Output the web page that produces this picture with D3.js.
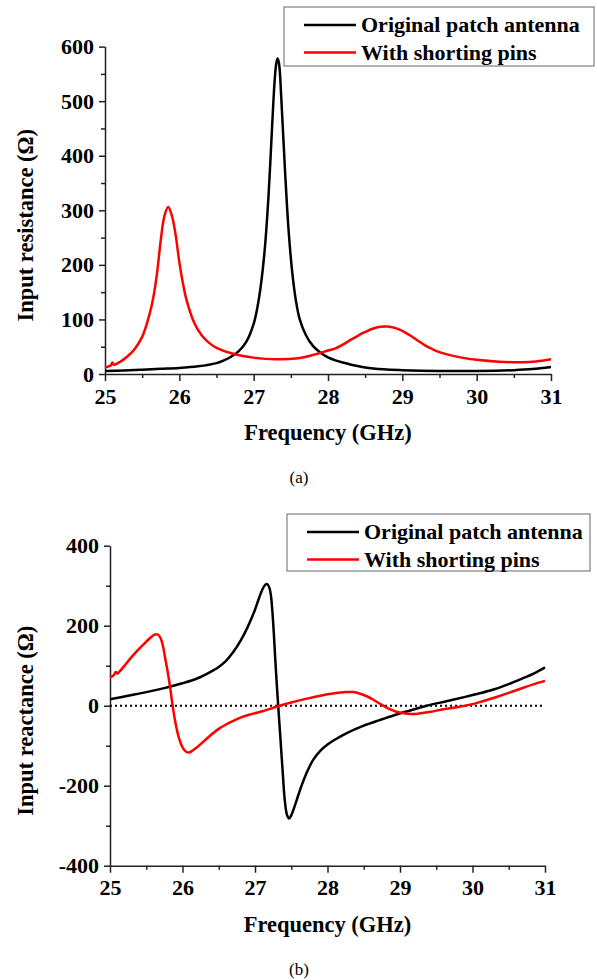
<!DOCTYPE html>
<html>
<head>
<meta charset="utf-8">
<script src="https://cdn.jsdelivr.net/npm/d3@7"></script>
<style>
  body { margin: 0; background: #fff; }
  svg { display: block; }
  text { font-family: "Liberation Serif", "Times New Roman", serif; }
  .axis path, .axis line { stroke: #222; stroke-width: 1.5; }
  .axis text { font-size: 22px; font-weight: bold; fill: #000; font-family: "Liberation Serif", "Times New Roman", serif; }
  .title { font-size: 22.5px; font-weight: bold; }
  .legend text { font-size: 22px; font-weight: bold; }
</style>
</head>
<body>
<svg id="fig" width="597" height="980"></svg>
<script>
// frequency (GHz), input resistance (ohm)
var resOrigF = [25.0, 25.25, 25.5, 25.75, 26.0, 26.25, 26.5, 26.6, 26.7, 26.8, 26.9, 27.0, 27.05, 27.1, 27.15, 27.2, 27.25, 27.28, 27.3, 27.32, 27.34, 27.37, 27.42, 27.47, 27.52, 27.57, 27.62, 27.7, 27.8, 27.9, 28.0, 28.1, 28.2, 28.3, 28.5, 28.75, 29.0, 29.5, 30.0, 30.5, 30.75, 31.0];
var resOrigR = [5.5, 6.5, 8, 9.5, 11, 14, 20, 25, 32, 42, 59, 92, 122, 166, 230, 327, 459, 533, 565, 578, 570, 510, 377, 263, 185, 133, 100, 72, 51, 39, 30.5, 25, 21, 17.5, 12, 8.5, 7, 5.5, 5.5, 7, 9, 13];

var resPinsF = [25.0, 25.05, 25.08, 25.1, 25.12, 25.2, 25.3, 25.4, 25.5, 25.6, 25.65, 25.7, 25.75, 25.8, 25.85, 25.9, 25.95, 26.0, 26.05, 26.1, 26.2, 26.3, 26.4, 26.5, 26.7, 27.0, 27.3, 27.6, 27.8, 28.0, 28.1, 28.2, 28.3, 28.4, 28.5, 28.6, 28.7, 28.8, 28.9, 29.0, 29.1, 29.2, 29.3, 29.4, 29.5, 29.6, 29.8, 30.0, 30.3, 30.6, 30.8, 31.0];
var resPinsR = [12, 14, 16, 21, 17, 22, 32, 46, 68, 110, 140, 185, 245, 290, 306, 290, 255, 205, 165, 134, 94, 71, 57, 48, 38, 30, 27, 29, 35, 43, 47, 54, 62, 70, 77, 83, 86.5, 87, 84.5, 79, 71, 62, 53, 46, 40, 36, 30, 26, 22.5, 21.5, 23, 27];

// frequency (GHz), input reactance (ohm)
var reaOrigF = [25.0, 25.25, 25.5, 25.75, 26.0, 26.2, 26.4, 26.5, 26.6, 26.7, 26.8, 26.9, 27.0, 27.05, 27.1, 27.14, 27.17, 27.2, 27.22, 27.24, 27.26, 27.28, 27.3, 27.32, 27.35, 27.38, 27.41, 27.44, 27.47, 27.5, 27.55, 27.6, 27.65, 27.7, 27.8, 27.9, 28.0, 28.1, 28.26, 28.5, 28.72, 28.9, 29.1, 29.37, 29.64, 29.9, 30.1, 30.3, 30.5, 30.7, 30.85, 31.0];
var reaOrigX = [16, 25, 34, 44, 56, 68, 86, 97, 112, 134, 162, 197, 240, 266, 290, 302, 304, 294, 275, 235, 180, 114, 55, 0, -80, -160, -235, -272, -282, -274, -250, -222, -196, -173, -136, -113, -97, -85, -69, -50, -36, -25, -14, 0, 11, 22, 31, 41, 54, 69, 81, 96];

var reaPinsF = [25.0, 25.05, 25.08, 25.1, 25.13, 25.2, 25.3, 25.4, 25.5, 25.57, 25.62, 25.66, 25.7, 25.73, 25.76, 25.8, 25.83, 25.86, 25.9, 25.95, 26.0, 26.05, 26.09, 26.14, 26.2, 26.3, 26.4, 26.5, 26.6, 26.7, 26.8, 26.93, 27.1, 27.34, 27.5, 27.7, 27.9, 28.1, 28.25, 28.35, 28.45, 28.55, 28.65, 28.75, 28.85, 28.95, 29.05, 29.15, 29.25, 29.4, 29.6, 29.8, 29.95, 30.1, 30.3, 30.5, 30.7, 30.85, 31.0];
var reaPinsX = [71, 76, 84, 80, 85, 100, 122, 142, 160, 172, 178, 178, 168, 150, 120, 80, 45, 5, -40, -80, -104, -115, -117, -112, -104, -88, -72, -58, -47, -38, -30, -22, -14, 0, 8, 17, 25, 31, 34, 34, 30, 23, 13, 2, -8, -15, -19, -21, -20, -16, -9, -3, 2, 9, 20, 32, 45, 54, 62];

var freqTicks = [25, 26, 27, 28, 29, 30, 31];
var resTicks = [0, 100, 200, 300, 400, 500, 600];
var reaTicks = [-400, -200, 0, 200, 400];
var seriesNames = ['Original patch antenna', 'With shorting pins'];
var seriesColors = ['#000', '#ff0000'];

var svg = d3.select('#fig');

function zip(f, v) {
    return f.map(function (d, i) { return [d, v[i]]; });
}

// plain hyphen for negatives, like the original
function fmt(d) { return String(d); }

function drawPanel(o) {
    var x = d3.scaleLinear().domain([25, 31]).range([o.left, o.right]);
    var y = d3.scaleLinear().domain(o.yDomain).range([o.bottom, o.top]);
    var g = svg.append('g');

    // minor ticks first, then major
    g.append('g').attr('class', 'axis').attr('transform', 'translate(0,' + o.bottom + ')')
        .call(d3.axisBottom(x).tickValues(d3.range(25.5, 31, 1)).tickSize(4).tickFormat(''))
        .select('.domain').remove();
    g.append('g').attr('class', 'axis').attr('transform', 'translate(' + o.left + ',0)')
        .call(d3.axisLeft(y).tickValues(o.yMinor).tickSize(4).tickFormat(''))
        .select('.domain').remove();

    g.append('g').attr('class', 'axis').attr('transform', 'translate(0,' + o.bottom + ')')
        .call(d3.axisBottom(x).tickValues(freqTicks).tickSize(7).tickSizeOuter(0).tickPadding(7).tickFormat(fmt));
    g.append('g').attr('class', 'axis').attr('transform', 'translate(' + o.left + ',0)')
        .call(d3.axisLeft(y).tickValues(o.yTicks).tickSize(6).tickSizeOuter(0).tickPadding(5).tickFormat(fmt));

    if (o.zeroLine) {
        g.append('line')
            .attr('x1', x(25)).attr('x2', x(31))
            .attr('y1', y(0)).attr('y2', y(0))
            .attr('stroke', '#000').attr('stroke-width', 2)
            .attr('stroke-dasharray', '2,3');
    }

    var line = d3.line()
        .x(function (d) { return x(d[0]); })
        .y(function (d) { return y(d[1]); })
        .curve(d3.curveCatmullRom.alpha(0.5));

    o.series.forEach(function (s, i) {
        g.append('path')
            .datum(s)
            .attr('fill', 'none')
            .attr('stroke', seriesColors[i])
            .attr('stroke-width', 2.5)
            .attr('stroke-linejoin', 'round')
            .attr('d', line);
    });

    g.append('text').attr('class', 'title')
        .attr('x', (o.left + o.right) / 2).attr('y', o.bottom + 66)
        .attr('text-anchor', 'middle')
        .text('Frequency (GHz)');

    g.append('text').attr('class', 'title')
        .attr('transform', 'translate(33,' + ((o.top + o.bottom) / 2 + 15) + ') rotate(-90)')
        .attr('text-anchor', 'middle')
        .text(o.yTitle);

    g.append('text')
        .attr('x', 299).attr('y', o.bottom + 109)
        .attr('text-anchor', 'middle')
        .style('font-size', '17px')
        .text(o.label);

    // legend
    var lg = g.append('g').attr('class', 'legend');
    lg.append('rect')
        .attr('x', o.legend[0]).attr('y', o.legend[1])
        .attr('width', o.legend[2]).attr('height', o.legend[3])
        .attr('fill', '#fff').attr('stroke', '#666').attr('stroke-width', 1);
    seriesNames.forEach(function (name, i) {
        var ly = o.legend[1] + 18 + i * 27.5;
        lg.append('line')
            .attr('x1', o.legend[0] + 20).attr('x2', o.legend[0] + 72)
            .attr('y1', ly).attr('y2', ly)
            .attr('stroke', seriesColors[i]).attr('stroke-width', 2.5);
        lg.append('text')
            .attr('x', o.legend[0] + 77).attr('y', ly + 7)
            .text(name);
    });
}

drawPanel({
    left: 105, right: 551, top: 46.6, bottom: 374,
    yDomain: [0, 600], yTicks: resTicks, yMinor: d3.range(50, 600, 100),
    series: [zip(resOrigF, resOrigR), zip(resPinsF, resPinsR)],
    yTitle: 'Input resistance (\u03A9)', label: '(a)',
    legend: [284, 7, 310, 59]
});

drawPanel({
    left: 110, right: 545, top: 545.7, bottom: 865.7,
    yDomain: [-400, 400], yTicks: reaTicks, yMinor: [-300, -100, 100, 300],
    series: [zip(reaOrigF, reaOrigX), zip(reaPinsF, reaPinsX)],
    yTitle: 'Input reactance (\u03A9)', label: '(b)', zeroLine: true,
    legend: [287, 514, 303, 57]
});
</script>
</body>
</html>
